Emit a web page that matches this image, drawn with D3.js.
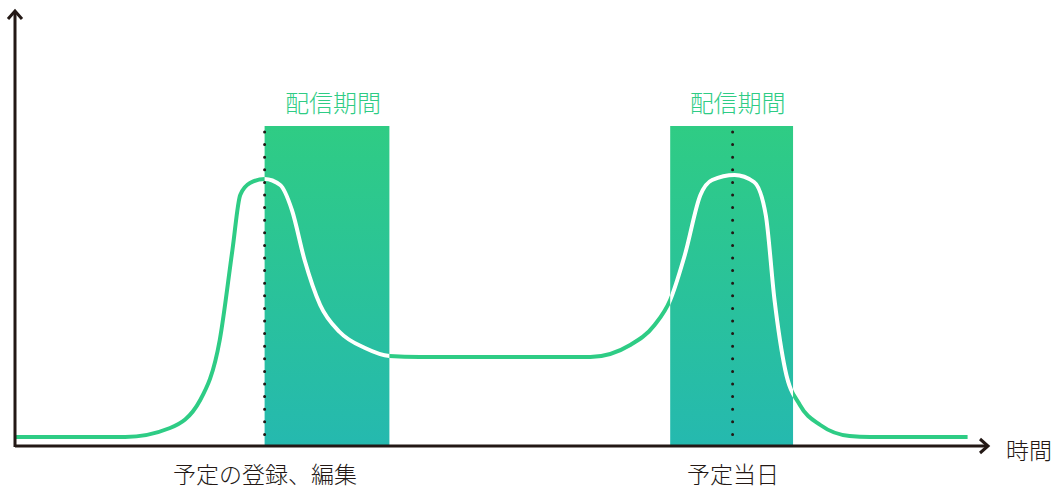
<!DOCTYPE html>
<html><head><meta charset="utf-8">
<script src="https://cdn.jsdelivr.net/npm/d3@7"></script>
<style>
html,body{margin:0;padding:0;background:#fff;}
svg{display:block;font-family:"Noto Sans CJK JP","Noto Sans",sans-serif;}
</style></head>
<body><svg id="c" width="1060" height="492"></svg>
<script>
// ---- data (x: time units 0..100, y: activity level 0..100) ----
const eventNames = ["予定の登録、編集", "予定当日"];
const eventTimes = [25.6, 73.6];
const periodLabel = "配信期間";
const periodStart = [25.6, 67.2];
const periodEnd = [38.4, 79.8];
const periodTop = 80;
const curveX = [0, 11.3, 15.9, 19.0, 21.0, 22.3, 23.1, 24.1, 25.6, 27.2, 28.4, 29.7, 31.3, 33.3, 35.9, 38.4, 41.5, 59.0, 63.1, 65.6, 67.2, 68.7, 70.3, 71.5, 73.8, 75.8, 77.0, 77.9, 79.0, 80.5, 82.6, 85.6, 87.7, 97.7];
const curveY = [2.25, 2.25, 4.5, 11.5, 26.5, 49, 62.75, 65.75, 66.75, 65.25, 59, 46.5, 35.25, 28.5, 24.5, 22.5, 22.25, 22.25, 25.25, 30.25, 36.5, 47.75, 62.75, 66.5, 67.75, 66, 57.75, 36.5, 19, 10.25, 5.25, 2.5, 2.25, 2.25];
const axisTitle = "時間";

const svg = d3.select("#c");
const x = d3.scaleLinear().domain([0, 100]).range([15, 990]);
const y = d3.scaleLinear().domain([0, 100]).range([446, 46]);
const green = "#2ECC85", dark = "#231815";

const defs = svg.append("defs");
const grad = defs.append("linearGradient").attr("id", "g").attr("x1", 0).attr("y1", 0).attr("x2", 0).attr("y2", 1);
grad.append("stop").attr("offset", "0%").attr("stop-color", "#2FCC84");
grad.append("stop").attr("offset", "100%").attr("stop-color", "#25B9AF");

const periods = periodStart.map((s, i) => ({s, e: periodEnd[i]}));
const clip = defs.append("clipPath").attr("id", "clip");
periods.forEach(p => clip.append("rect")
  .attr("x", x(p.s)).attr("y", y(periodTop)).attr("width", x(p.e) - x(p.s)).attr("height", y(0) - y(periodTop)));

// period rects
svg.selectAll("rect.p").data(periods).join("rect").attr("class", "p")
  .attr("x", d => x(d.s)).attr("y", y(periodTop))
  .attr("width", d => x(d.e) - x(d.s)).attr("height", y(0) - y(periodTop))
  .attr("fill", "url(#g)");

// period labels
svg.selectAll("text.pl").data(periods).join("text").attr("class", "pl")
  .attr("x", d => x((d.s + d.e) / 2) + 6).attr("y", y(periodTop) - 14)
  .attr("text-anchor", "middle").attr("font-size", 24).attr("font-weight", 300).attr("fill", green)
  .text(periodLabel);

// curve
const pts = curveX.map((v, i) => [v, curveY[i]]);
const line = d3.line().x(d => x(d[0])).y(d => y(d[1])).curve(d3.curveMonotoneX);
svg.append("path").attr("d", line(pts)).attr("fill", "none").attr("stroke", green).attr("stroke-width", 4);
svg.append("path").attr("d", line(pts)).attr("fill", "none").attr("stroke", "#fff").attr("stroke-width", 4).attr("clip-path", "url(#clip)");

// dotted event lines
svg.selectAll("line.ev").data(eventTimes).join("line").attr("class", "ev")
  .attr("x1", d => x(d)).attr("x2", d => x(d)).attr("y1", y(periodTop) + 6).attr("y2", y(0))
  .attr("stroke", dark).attr("stroke-width", 3).attr("stroke-linecap", "round").attr("stroke-dasharray", "0 12.6");

// x axis with event tick labels
const ax = svg.append("g").attr("transform", `translate(0,${y(0)})`)
  .call(d3.axisBottom(x).tickValues(eventTimes).tickFormat((d, i) => eventNames[i]).tickSize(0).tickPadding(21));
ax.select(".domain").remove();
ax.selectAll("text").attr("font-size", 23).attr("font-weight", 300).attr("fill", dark).attr("font-family", "'Noto Sans CJK JP',sans-serif");

// axis lines with arrowheads
svg.append("line").attr("x1", x(0)).attr("x2", 988).attr("y1", y(0)).attr("y2", y(0)).attr("stroke", dark).attr("stroke-width", 3);
svg.append("path").attr("d", `M980,${y(0)-7} L988,${y(0)} L980,${y(0)+7}`).attr("fill", "none").attr("stroke", dark).attr("stroke-width", 3);
svg.append("line").attr("x1", x(0)).attr("x2", x(0)).attr("y1", y(0) + 1).attr("y2", 12).attr("stroke", dark).attr("stroke-width", 3);
svg.append("path").attr("d", `M${x(0)-7},19 L${x(0)},11 L${x(0)+7},19`).attr("fill", "none").attr("stroke", dark).attr("stroke-width", 3);

svg.append("text").attr("x", 1006).attr("y", y(0) + 13).attr("font-size", 23).attr("font-weight", 300).attr("fill", dark).text(axisTitle);
</script></body></html>
